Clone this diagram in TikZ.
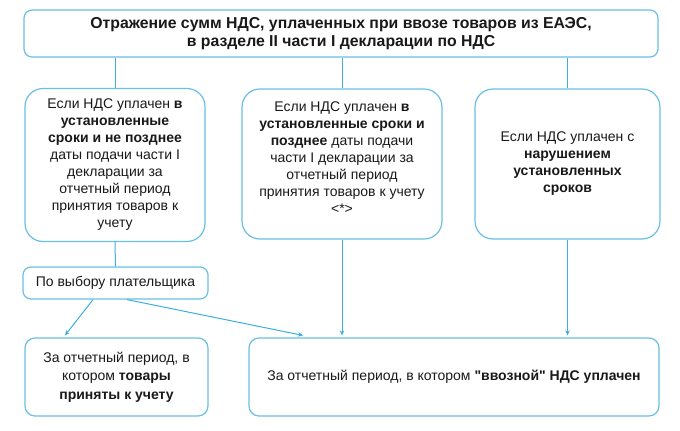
\documentclass[tikz,border=0pt]{standalone}
\usepackage{fontspec}
\setmainfont{Liberation Sans}[Ligatures=TeXOff]
\usetikzlibrary{arrows.meta,calc}
\definecolor{boxc}{RGB}{105,192,228}
\definecolor{linec}{RGB}{60,175,222}
\definecolor{txt}{RGB}{25,25,25}
\tikzset{
  box/.style={draw=boxc, line width=1.2pt, fill=white, text=txt, align=center, font=\fontsize{14}{17}\selectfont, inner sep=0pt},
  bigbox/.style={box, rounded corners=18pt},
  smallbox/.style={box, rounded corners=8pt},
  lbl/.style={text=txt, align=center, font=\fontsize{14}{17}\selectfont, inner sep=0pt},
  conn/.style={draw=linec, line width=1pt},
  arr/.style={conn, -{Stealth[length=5pt,width=4.5pt]}}
}
\begin{document}
\begin{tikzpicture}[x=1pt,y=-1pt]
\useasboundingbox (0,0) rectangle (680,431);
\node[smallbox, minimum width=634pt, minimum height=47pt, font=\bfseries\fontsize{15.8}{18}\selectfont] (top) at (341,33.5)
  {Отражение сумм НДС, уплаченных при ввозе товаров из ЕАЭС,\\в разделе II части I декларации по НДС};
\node[bigbox, minimum width=180pt, minimum height=153pt] (L) at (115,165)
  {Если НДС уплачен \textbf{в}\\\textbf{установленные}\\\textbf{сроки и не позднее}\\даты подачи части I\\декларации за\\отчетный период\\принятия товаров к\\учету};
\node[bigbox, minimum width=200pt, minimum height=150pt] (M) at (342,164) {};
\node[lbl] (Mt) at (342,157.5)
  {Если НДС уплачен \textbf{в}\\\textbf{установленные сроки и}\\\textbf{позднее} даты подачи\\части I декларации за\\отчетный период\\принятия товаров к учету\\<*>};
\node[bigbox, minimum width=185pt, minimum height=150pt] (R) at (567.5,164)
  {Если НДС уплачен с\\\textbf{нарушением}\\\textbf{установленных}\\\textbf{сроков}};
\node[smallbox, minimum width=185pt, minimum height=32pt] (P) at (115.5,283) {По выбору плательщика};
\node[smallbox, rounded corners=10pt, minimum width=183pt, minimum height=78pt, font=\fontsize{14}{18.5}\selectfont] (BL) at (116.5,377)
  {За отчетный период, в\\котором \textbf{товары}\\\textbf{приняты к учету}};
\node[smallbox, rounded corners=10pt, minimum width=410pt, minimum height=78pt] (BR) at (454,377)
  {За отчетный период, в котором \textbf{"ввозной" НДС уплачен}};
\draw[conn] (top.south -| L.north) -- (L.north);
\draw[conn] (top.south -| M.north) -- (M.north);
\draw[conn] (top.south -| R.north) -- (R.north);
\draw[conn] (L.south) -- (P.north);
\draw[arr] ($(P.south)+(-22.5,0)$) -- ($(BL.north)+(-51.5,-2)$);
\draw[arr] ($(P.south)+(11.5,0)$) -- ($(BR.north)+(-151,-2)$);
\draw[arr] (M.south) -- ($(M.south |- BR.north)+(0,-2)$);
\draw[arr] (R.south) -- ($(R.south |- BR.north)+(0,-2)$);
\end{tikzpicture}
\end{document}
